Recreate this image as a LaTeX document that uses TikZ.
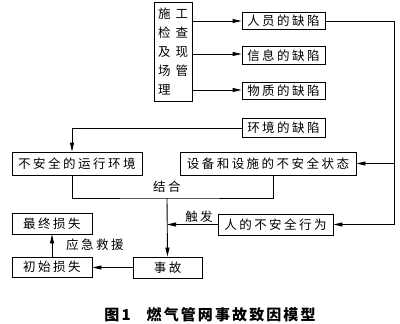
\documentclass[tikz,border=0pt]{standalone}
\usepackage{fontspec}
\newfontfamily\cjk[LetterSpace=20]{Noto Sans CJK SC}
\newfontfamily\cjkwide[LetterSpace=40]{Noto Sans CJK SC}
\newfontfamily\cjkcap[LetterSpace=14]{Noto Sans CJK SC}
\usetikzlibrary{arrows.meta}
\begin{document}
\begin{tikzpicture}[x=1pt,y=-1pt,
  bx/.style={draw,line width=0.9pt,inner sep=0pt,font={\cjk\fontsize{12.5}{15}\selectfont}},
  lab/.style={inner sep=0pt,font={\cjk\fontsize{12.5}{15}\selectfont}},
  ln/.style={line width=0.9pt},
  ar/.style={line width=0.9pt,-{Triangle[length=9pt,width=4pt]}}]
\useasboundingbox (0,0) rectangle (400,324);
% nodes
\node[draw,line width=0.9pt,inner sep=0pt,minimum width=38pt,minimum height=99pt,align=left,
  font={\cjkwide\fontsize{12.5}{19}\selectfont}] (A) at (173,51.5) {施工\\检查\\及现\\场管\\理};
\node[bx,minimum width=83pt,minimum height=17pt] (p1) at (283.5,21) {人员的缺陷};
\node[bx,minimum width=83pt,minimum height=18pt] (p2) at (283.5,55.5) {信息的缺陷};
\node[bx,minimum width=83pt,minimum height=17pt] (p3) at (283.5,91) {物质的缺陷};
\node[bx,minimum width=83pt,minimum height=19pt] (e) at (283.5,128) {环境的缺陷};
\node[bx,minimum width=130pt,minimum height=23pt] (u) at (77,163.5) {不安全的运行环境};
\node[bx,minimum width=176pt,minimum height=23pt] (s) at (268,163.5) {设备和设施的不安全状态};
\node[bx,minimum width=115pt,minimum height=21pt] (h) at (275.5,224.5) {人的不安全行为};
\node[bx,minimum width=69pt,minimum height=21pt] (acc) at (167.5,267.5) {事故};
\node[bx,minimum width=80pt,minimum height=20pt] (i) at (52,267) {初始损失};
\node[bx,minimum width=80pt,minimum height=21pt] (f) at (52,223.5) {最终损失};
\node[lab] (jh) at (167,187) {结合};
\node[lab] (cf) at (199,217) {触发};
\node[lab] (yj) at (95,245) {应急救援};
\node[inner sep=0pt,font={\cjkcap\bfseries\fontsize{15}{18}\selectfont}] (cap) at (210,315) {图1\hspace{16pt}燃气管网事故致因模型};
% coordinates
\coordinate (R) at (394,21);
\coordinate (J) at (167,198);
% connectors
\draw[ar] (A.east |- p1.west) -- (p1.west);
\draw[ar] (A.east |- 0,54) -- (p2.west |- 0,54);
\draw[ar] (A.east |- 0,90) -- (p3.west |- 0,90);
\draw[ln] (p1.east) -- (R) -- (R |- h.east);
\draw[ar] (R |- h.east) -- (h.east);
\draw[ar] (R |- s.east) -- (s.east);
\draw[ar] (e.west) -| ([xshift=-5pt]u.north);
\draw[ln] ([xshift=-5pt]u.south) |- (J) -| ([xshift=5pt]s.south);
\draw[ar] (J) -- (acc.north);
\draw[ar] (h.west) -- (J |- h.west);
\draw[ar] (acc.west) -- (i.east |- acc.west);
\draw[ar] (i.north) -- (f.south);
\end{tikzpicture}
\end{document}
